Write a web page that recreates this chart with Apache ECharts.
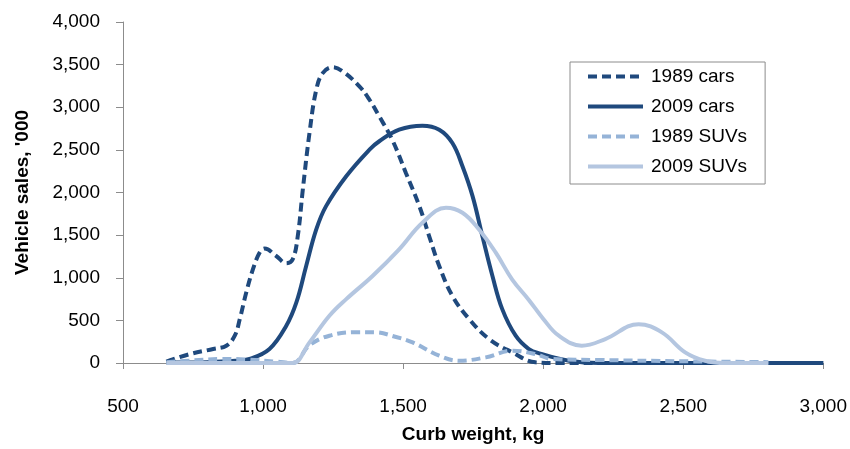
<!DOCTYPE html>
<html>
<head>
<meta charset="utf-8">
<script src="https://cdn.jsdelivr.net/npm/echarts@6/dist/echarts.min.js"></script>
<style>html,body{margin:0;padding:0;background:#fff}#c{width:850px;height:449px}</style>
</head>
<body>
<div id="c"></div>
<script>
// Data: [curb weight kg, vehicle sales '000]
const cars1989 = [[655,15],[739,105],[822,164],[869,203],[899,320],[917,515],[940,827],[964,1100],[988,1295],[1006,1342],[1047,1255],[1083,1170],[1106,1217],[1124,1489],[1142,2035],[1166,2702],[1190,3205],[1213,3400],[1249,3470],[1285,3420],[1344,3245],[1380,3088],[1415,2893],[1461,2620],[1510,2230],[1558,1840],[1593,1489],[1629,1138],[1676,787],[1736,515],[1807,281],[1890,125],[1973,8],[2050,0],[2300,0],[2600,0],[3000,0]];
const cars2009 = [[655,5],[800,10],[900,25],[952,47],[1023,164],[1083,437],[1119,710],[1154,1138],[1190,1567],[1225,1840],[1297,2191],[1380,2503],[1415,2601],[1486,2737],[1569,2784],[1629,2737],[1676,2581],[1712,2308],[1748,1957],[1783,1489],[1819,1021],[1854,632],[1902,320],[1949,164],[1990,110],[2092,27],[2200,0],[2500,0],[2800,0],[3000,0]];
const suvs1989 = [[655,10],[750,30],[850,47],[950,40],[1050,15],[1106,0],[1166,210],[1237,320],[1332,362],[1400,360],[1475,305],[1534,242],[1629,86],[1700,27],[1795,66],[1890,144],[1973,105],[2032,47],[2200,35],[2500,20],[2804,10]];
const suvs2009 = [[655,0],[800,0],[950,0],[1050,0],[1106,0],[1166,242],[1237,554],[1297,749],[1391,1021],[1486,1333],[1569,1645],[1653,1821],[1712,1762],[1771,1567],[1831,1294],[1889,982],[1949,740],[2000,520],[2056,320],[2138,203],[2222,281],[2341,456],[2424,359],[2507,125],[2578,27],[2650,0],[2804,0]];
const seriesNames = ['1989 cars','2009 cars','1989 SUVs','2009 SUVs'];
const xTitle = 'Curb weight, kg';
const yTitle = "Vehicle sales, '000";

const DARK = '#1F497D', MID = '#95B3D7', LIGHT = '#B4C6E0';
const FONT = 'Liberation Sans';
const fmt = v => v.toLocaleString('en-US');

function mk(name, data, color, dashed) {
  return {
    name, type: 'line', data, smooth: 0.4, symbol: 'none', showSymbol: false,
    lineStyle: { color, width: 4, type: dashed ? [9, 5] : 'solid', cap: 'butt' },
    itemStyle: { color }
  };
}

const chart = echarts.init(document.getElementById('c'), null, { renderer: 'canvas' });
chart.setOption({
  animation: false,
  backgroundColor: '#fff',
  textStyle: { fontFamily: FONT },
  grid: { left: 123, right: 25, top: 22, bottom: 85, containLabel: false },
  legend: {
    orient: 'vertical', left: 570, top: 62,
    padding: [5, 18, 8, 16],
    borderColor: '#8c8c8c', borderWidth: 1, backgroundColor: '#fff',
    itemWidth: 55, itemHeight: 14, itemGap: 11,
    itemStyle: { opacity: 0 },
    lineStyle: { width: 4 },
    textStyle: { fontFamily: FONT, fontSize: 19, color: '#000', padding: [0, 0, 0, 3] },
    data: seriesNames
  },
  xAxis: {
    type: 'value', min: 500, max: 3000, interval: 500,
    name: xTitle, nameLocation: 'middle', nameGap: 62,
    nameTextStyle: { fontFamily: FONT, fontSize: 19, fontWeight: 'bold', color: '#000' },
    axisLine: { show: true, onZero: false, lineStyle: { color: '#8c8c8c', width: 1 } },
    axisTick: { show: true, length: 6, inside: false, lineStyle: { color: '#8c8c8c' } },
    axisLabel: { fontFamily: FONT, fontSize: 19, color: '#000', margin: 34, formatter: fmt },
    splitLine: { show: false }
  },
  yAxis: {
    type: 'value', min: 0, max: 4000, interval: 500,
    name: yTitle, nameLocation: 'middle', nameGap: 91, nameRotate: 90,
    nameTextStyle: { fontFamily: FONT, fontSize: 19, fontWeight: 'bold', color: '#000' },
    axisLine: { show: true, lineStyle: { color: '#8c8c8c', width: 1 } },
    axisTick: { show: true, length: 7, inside: false, lineStyle: { color: '#8c8c8c' } },
    axisLabel: { fontFamily: FONT, fontSize: 19, color: '#000', margin: 23, formatter: fmt },
    splitLine: { show: false }
  },
  series: [
    mk(seriesNames[0], cars1989, DARK, true),
    mk(seriesNames[1], cars2009, DARK, false),
    mk(seriesNames[2], suvs1989, MID, true),
    mk(seriesNames[3], suvs2009, LIGHT, false)
  ]
});
</script>
</body>
</html>
